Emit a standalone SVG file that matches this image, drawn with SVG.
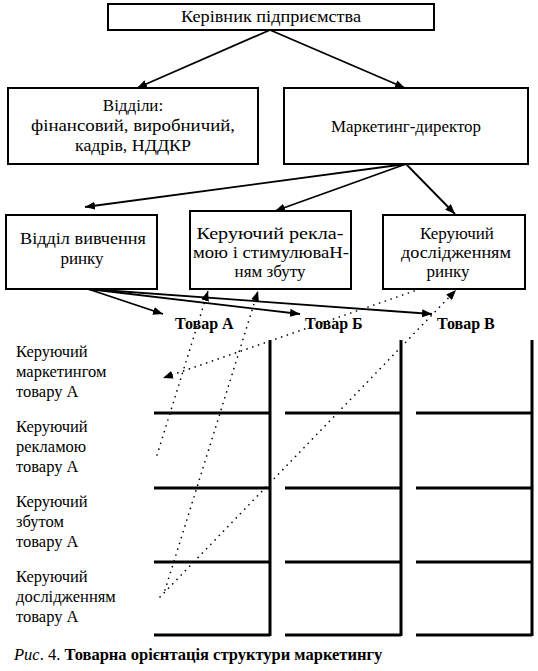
<svg xmlns="http://www.w3.org/2000/svg" width="538" height="671" viewBox="0 0 538 671" font-family="Liberation Serif, Times New Roman, serif">
<style>
.box{fill:#fff;stroke:#000;stroke-width:2}
.t{font-size:17px;fill:#000;text-anchor:middle}
.l{font-size:16.5px;fill:#000}
.g{font-size:16px;font-weight:bold;fill:#000}
.conn{stroke:#000;stroke-width:1.8;fill:none}
.dot{stroke:#000;stroke-width:1.6;fill:none;stroke-dasharray:0.1 6;stroke-linecap:round}
.grid{stroke:#000;stroke-width:3;fill:none}
</style>
<defs>
<marker id="ah" markerUnits="userSpaceOnUse" markerWidth="11" markerHeight="8" refX="10" refY="4" orient="auto"><path d="M0,0 L10,4 L0,8 z" fill="#000"/></marker>
</defs>
<rect width="538" height="671" fill="#fff"/>

<g id="head">
<rect class="box" x="108" y="4" width="326" height="26"/>
<text class="t" x="271" y="22" textLength="180" lengthAdjust="spacingAndGlyphs">Керівник підприємства</text>
</g>
<g id="depts">
<rect class="box" x="8" y="88" width="250" height="76"/>
<text class="t" x="133" y="111">Відділи:</text>
<text class="t" x="133" y="131" textLength="204" lengthAdjust="spacingAndGlyphs">фінансовий, виробничий,</text>
<text class="t" x="133" y="151" textLength="116" lengthAdjust="spacingAndGlyphs">кадрів, НДДКР</text>
</g>
<g id="mdir">
<rect class="box" x="284" y="88" width="244" height="76"/>
<text class="t" x="406" y="132" textLength="150" lengthAdjust="spacingAndGlyphs">Маркетинг-директор</text>
</g>
<g id="research-dept">
<rect class="box" x="6" y="215" width="151" height="74"/>
<text class="t" x="83" y="244" textLength="126" lengthAdjust="spacingAndGlyphs">Відділ вивчення</text>
<text class="t" x="82" y="264">ринку</text>
</g>
<g id="adv">
<rect class="box" x="190" y="211" width="161" height="78"/>
<text class="t" x="270" y="239" textLength="147" lengthAdjust="spacingAndGlyphs">Керуючий рекла-</text>
<text class="t" x="271" y="258" textLength="156" lengthAdjust="spacingAndGlyphs">мою і стимулюваН-</text>
<text class="t" x="270" y="277">ням збуту</text>
</g>
<g id="research-mgr">
<rect class="box" x="383" y="215" width="142" height="74"/>
<text class="t" x="457" y="239">Керуючий</text>
<text class="t" x="456" y="258" textLength="110" lengthAdjust="spacingAndGlyphs">дослідженням</text>
<text class="t" x="448" y="277">ринку</text>
</g>
<g id="products">
<text class="g" x="175" y="329">Товар А</text>
<text class="g" x="305" y="329">Товар Б</text>
<text class="g" x="437" y="329">Товар В</text>
</g>
<g id="roles">
<text class="l" x="16" y="357">Керуючий</text>
<text class="l" x="16" y="377">маркетингом</text>
<text class="l" x="16" y="397">товару А</text>
<text class="l" x="16" y="432">Керуючий</text>
<text class="l" x="16" y="452">рекламою</text>
<text class="l" x="16" y="472">товару А</text>
<text class="l" x="16" y="507">Керуючий</text>
<text class="l" x="16" y="527">збутом</text>
<text class="l" x="16" y="547">товару А</text>
<text class="l" x="16" y="582">Керуючий</text>
<text class="l" x="16" y="602">дослідженням</text>
<text class="l" x="16" y="622">товару А</text>
</g>
<g id="matrix">
<path class="grid" d="M270,340V636M401,340V636M532,340V636"/>
<path class="grid" d="M154,413H270M154,488H270M154,562H270M154,635H270M285,413H401M285,488H401M285,562H401M285,635H401M416,413H532M416,488H532M416,562H532M416,635H532"/>
</g>
<g id="connectors">
<line class="conn" x1="270" y1="30" x2="137" y2="88" marker-end="url(#ah)"/>
<line class="conn" x1="270" y1="30" x2="405" y2="88" marker-end="url(#ah)"/>
<line class="conn" x1="406" y1="164" x2="85" y2="207" marker-end="url(#ah)"/>
<line class="conn" x1="406" y1="164" x2="275" y2="211" marker-end="url(#ah)"/>
<line class="conn" x1="406" y1="164" x2="455" y2="214" marker-end="url(#ah)"/>
<line class="conn" x1="88" y1="289" x2="163" y2="314" marker-end="url(#ah)"/>
<line class="conn" x1="88" y1="289" x2="300" y2="314" marker-end="url(#ah)"/>
<line class="conn" x1="88" y1="289" x2="432" y2="314" marker-end="url(#ah)"/>
<line class="dot" x1="157" y1="455" x2="208" y2="291" marker-end="url(#ah)"/>
<line class="dot" x1="165" y1="590" x2="258" y2="291" marker-end="url(#ah)"/>
<line class="dot" x1="420" y1="289" x2="163" y2="378" marker-end="url(#ah)"/>
<line class="dot" x1="160" y1="597" x2="456" y2="290" marker-end="url(#ah)"/>
</g>
<g id="caption">
<text class="l" x="14" y="660"><tspan font-style="italic">Рис</tspan>. 4. <tspan font-weight="bold">Товарна орієнтація структури маркетингу</tspan></text>
</g>
</svg>
